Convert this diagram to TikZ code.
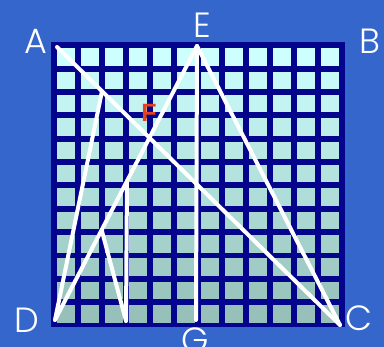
\documentclass[tikz,border=0pt]{standalone}
\usepackage{fontspec}
\usetikzlibrary{calc}
\newfontfamily\lblfont{Poppins Light}
\newfontfamily\ffont{Liberation Sans}
\definecolor{bgblue}{RGB}{52,102,204}
\definecolor{navy}{RGB}{4,4,140}
\definecolor{celltop}{RGB}{205,255,255}
\definecolor{cellbot}{RGB}{150,192,185}
\definecolor{fred}{RGB}{232,64,28}
\tikzset{
  seg/.style={draw=white, line width=4pt, line cap=round},
  lbl/.style={text=white, inner sep=0pt, anchor=base, font=\lblfont\fontsize{35}{35}\selectfont},
  flbl/.style={text=fred, inner sep=0pt, anchor=base, font=\ffont\bfseries\fontsize{25}{25}\selectfont}
}
\begin{document}
\begin{tikzpicture}[x=1pt,y=-1pt]
\fill[bgblue] (0,0) rectangle (384,347);
\useasboundingbox (0,0) rectangle (384,347);
\fill[navy] (50.7,42.3) rectangle (345,327);
\foreach \r in {0,...,11}{
  \pgfmathsetmacro\pc{100-\r*100/11}
  \colorlet{cellc}{celltop!\pc!cellbot}
  \foreach \c in {0,...,11}{
    \fill[cellc] (57.3+23.97*\c, 48.3+23.34*\r) rectangle ++(18,17.5);
  }
}
\coordinate (pA) at (57,47);
\coordinate (pC) at (340,325);
\coordinate (pE) at (197,46);
\coordinate (pD) at (55,320);
\coordinate (pG) at (196,320);
\coordinate (pK) at (126,321);
\coordinate (pH) at ($(pA)!0.159!(pC)$);
\coordinate (p1) at ($(pD)!0.507!(pE)$);
\coordinate (p2) at ($(pD)!0.3285!(pE)$);
\draw[seg] (pA) -- (pC);
\draw[seg] (pD) -- (pE);
\draw[seg] (pE) -- (pC);
\draw[seg] (pE) -- (pG);
\draw[seg] (pD) -- (pH);
\draw[seg] (p2) -- (pK);
\draw[seg] (p1) -- (pK);
\node[lbl] (A) at (36,54) {A};
\node[lbl] (E) at (202.8,37.3) {E};
\node[lbl] (B) at (370,53.3) {B};
\node[lbl] (D) at (26.5,333) {D};
\node[lbl] (C) at (359,331) {C};
\node[lbl] (G) at (195,353) {G};
\node[flbl] (F) at (149,121.7) {F};
\end{tikzpicture}
\end{document}
